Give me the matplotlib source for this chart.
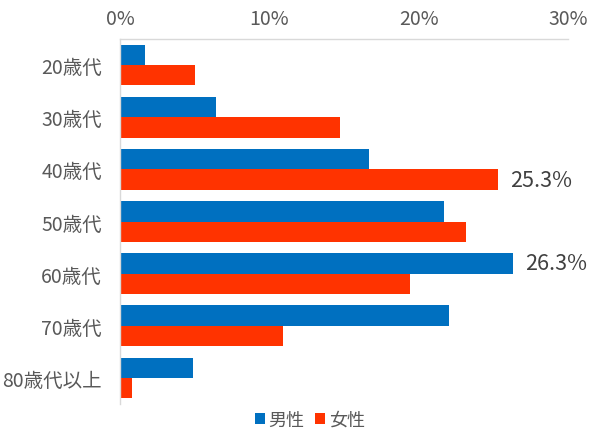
import matplotlib
matplotlib.use("Agg")
import matplotlib.pyplot as plt
import numpy as np

plt.rcParams['font.family'] = ['Noto Sans CJK JP', 'DejaVu Sans']

categories = ["20歳代", "30歳代", "40歳代", "50歳代", "60歳代", "70歳代", "80歳代以上"]
male = [1.7, 6.4, 16.7, 21.7, 26.3, 22.0, 4.9]
female = [5.0, 14.7, 25.3, 23.2, 19.4, 10.9, 0.8]
series_names = ["男性", "女性"]
xticks = [0, 10, 20, 30]
xtick_labels = ["0%", "10%", "20%", "30%"]

blue = "#0070C0"
red = "#FF3300"
grey_text = "#595959"

fig = plt.figure(figsize=(5.9, 4.31), dpi=100)
ax = fig.add_axes([0.2034, 0.0603, 0.7593, 0.8469])

y = np.arange(len(categories))
h = 0.39
ax.barh(y - h / 2, male, height=h, color=blue, label=series_names[0])
ax.barh(y + h / 2, female, height=h, color=red, label=series_names[1])

ax.set_ylim(len(categories) - 0.5, -0.5)
ax.set_xlim(0, 30)
ax.set_yticks(y)
ax.set_yticklabels(categories, fontsize=14, color=grey_text)
ax.xaxis.tick_top()
ax.set_xticks(xticks)
ax.set_xticklabels(xtick_labels, fontsize=14, color=grey_text)
ax.tick_params(axis='both', length=0)
ax.tick_params(axis='y', pad=13)
ax.tick_params(axis='x', pad=7)

for s in ['right', 'bottom']:
    ax.spines[s].set_visible(False)
ax.spines['top'].set_color('#D9D9D9')
ax.spines['left'].set_color('#D9D9D9')
ax.spines['top'].set_linewidth(1.0)
ax.spines['left'].set_linewidth(1.0)

# annotations
ax.text(female[2] + 0.8, y[2] + h / 2, f"{female[2]:.1f}%", va='center', ha='left',
        fontsize=15.5, color='#404040')
ax.text(male[4] + 0.8, y[4] - h / 2, f"{male[4]:.1f}%", va='center', ha='left',
        fontsize=15.5, color='#404040')

leg = fig.legend(loc='center', bbox_to_anchor=(0.525, 0.023), ncol=2, frameon=False,
                 fontsize=13, handlelength=0.55, handleheight=0.55, handletextpad=0.2,
                 columnspacing=0.6)
for t in leg.get_texts():
    t.set_color(grey_text)

fig.savefig("out.png", dpi=100)
